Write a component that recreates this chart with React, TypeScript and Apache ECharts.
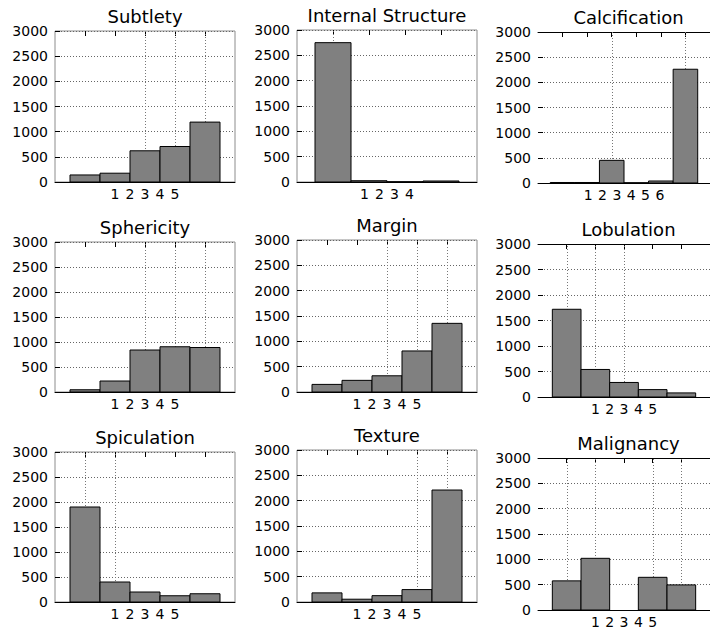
import React, { useEffect, useRef } from 'react';
import * as echarts from 'echarts';

const titles = ['Subtlety', 'Internal Structure', 'Calcification', 'Sphericity', 'Margin', 'Lobulation', 'Spiculation', 'Texture', 'Malignancy'];
const subtlety = [140, 175, 620, 705, 1190];
const internalStructure = [2750, 25, 5, 20];
const calcification = [10, 10, 450, 5, 40, 2260];
const sphericity = [45, 220, 840, 905, 890];
const margin = [150, 230, 320, 810, 1355];
const lobulation = [1720, 540, 285, 145, 80];
const spiculation = [1900, 400, 200, 125, 165];
const texture = [180, 55, 125, 245, 2210];
const malignancy = [575, 1020, 0, 645, 495];
const panelValues = [subtlety, internalStructure, calcification, sphericity, margin, lobulation, spiculation, texture, malignancy];
const yMax = 3000;
const yStep = 500;
// which tick positions show a vertical dotted grid line in each panel
const visibleGrid = [[3, 4, 5], [1], [3, 6], [3, 4, 5], [3, 4, 5], [1, 2, 3], [1, 2], [4, 5], [1, 2, 4, 5]];

// layout (pixels)
const colLeft = [55, 297, 538];
const colWidth = [180, 180, 181];
const panelTop = [31, 30, 32, 242, 240, 244, 452, 450, 458];
const panelHeight = [151, 152, 151, 150, 152, 153, 150, 152, 152];

const FONT = 'DejaVu Sans';

function buildOption() {
  const grid: any[] = [];
  const xAxis: any[] = [];
  const yAxis: any[] = [];
  const series: any[] = [];
  const graphic: any[] = [];

  panelValues.forEach((vals, i) => {
    const col = i % 3;
    const n = vals.length;
    const left = colLeft[col];
    const width = colWidth[col];
    const top = panelTop[i];
    const height = panelHeight[i];
    const ticks = vals.map((_, k) => k + 1);
    const c = (n + 1) / 2;
    const boxed = col < 2;

    grid.push({
      left, top, width, height,
      show: boxed,
      borderColor: '#8c8c8c',
      borderWidth: 1,
      backgroundColor: 'transparent',
      containLabel: false,
    });

    // main axis (bars)
    xAxis.push({
      gridIndex: i, type: 'value', position: 'bottom', min: 0, max: n + 1,
      axisLine: { show: true, onZero: false, lineStyle: { color: '#000', width: 1 } },
      axisTick: { show: false }, axisLabel: { show: false }, splitLine: { show: false },
    });
    // top ticks
    xAxis.push({
      gridIndex: i, type: 'value', position: 'top', min: 0, max: n + 1,
      axisLine: { show: !boxed, onZero: false, lineStyle: { color: '#000', width: 1 } },
      axisTick: { show: true, inside: true, length: 5, customValues: ticks, lineStyle: { color: '#000' } },
      axisLabel: { show: false }, splitLine: { show: false },
    });
    // clustered tick labels
    xAxis.push({
      gridIndex: i, type: 'value', position: 'bottom', min: c - 6, max: c + 6,
      axisLine: { show: false, onZero: false }, axisTick: { show: false }, splitLine: { show: false },
      axisLabel: { show: true, customValues: ticks, fontSize: 14, fontFamily: FONT, color: '#000', margin: 5, formatter: (v: number) => String(v) },
    });

    yAxis.push({
      gridIndex: i, type: 'value', min: 0, max: yMax, interval: yStep,
      axisLine: { show: false, onZero: false },
      axisTick: { show: true, inside: true, length: 5, lineStyle: { color: '#000' } },
      axisLabel: { fontSize: 14, fontFamily: FONT, color: '#000', margin: 7, padding: [3, 0, 0, 0], formatter: (v: number) => String(v) },
      splitLine: { show: true, lineStyle: { color: '#666', width: 1, type: [1, 2] } },
    });

    series.push({
      type: 'custom', xAxisIndex: 3 * i, yAxisIndex: i, z: 1, silent: true,
      encode: { x: 0, y: 1 },
      data: visibleGrid[i].map((t) => [t, 0]),
      renderItem: (params: any, api: any) => {
        const x = api.value(0);
        const p0 = api.coord([x, 0]);
        const p1 = api.coord([x, yMax]);
        return {
          type: 'line',
          shape: { x1: Math.round(p0[0]) + 0.5, y1: p0[1], x2: Math.round(p1[0]) + 0.5, y2: p1[1] },
          style: { stroke: '#777', lineWidth: 1, lineDash: [1, 2] },
        };
      },
    });

    series.push({
      type: 'custom', xAxisIndex: 3 * i, yAxisIndex: i, z: 3, silent: true,
      encode: { x: 0, y: 1 },
      data: vals.map((v, k) => [k + 1, v]),
      renderItem: (params: any, api: any) => {
        const x = api.value(0);
        const v = api.value(1);
        if (!v) return null;
        const a = api.coord([x - 0.5, v]);
        const b = api.coord([x + 0.5, 0]);
        return {
          type: 'rect',
          shape: { x: a[0], y: a[1], width: b[0] - a[0], height: b[1] - a[1] },
          style: { fill: '#808080', stroke: '#000', lineWidth: 1 },
        };
      },
    });

    graphic.push({
      type: 'text', x: left + width / 2, y: top - 15, silent: true,
      style: { text: titles[i], fontSize: 18, fontFamily: FONT, fill: '#000', textAlign: 'center', textVerticalAlign: 'middle' },
    });
  });

  return { animation: false, backgroundColor: '#fff', grid, xAxis, yAxis, series, graphic };
}

export default function App() {
  const ref = useRef<HTMLDivElement>(null);
  useEffect(() => {
    if (!ref.current) return;
    const chart = echarts.init(ref.current, undefined, { renderer: 'svg' });
    chart.setOption(buildOption() as any);
    return () => chart.dispose();
  }, []);
  return <div ref={ref} style={{ position: 'fixed', left: 0, top: 0, width: 710, height: 632 }} />;
}
